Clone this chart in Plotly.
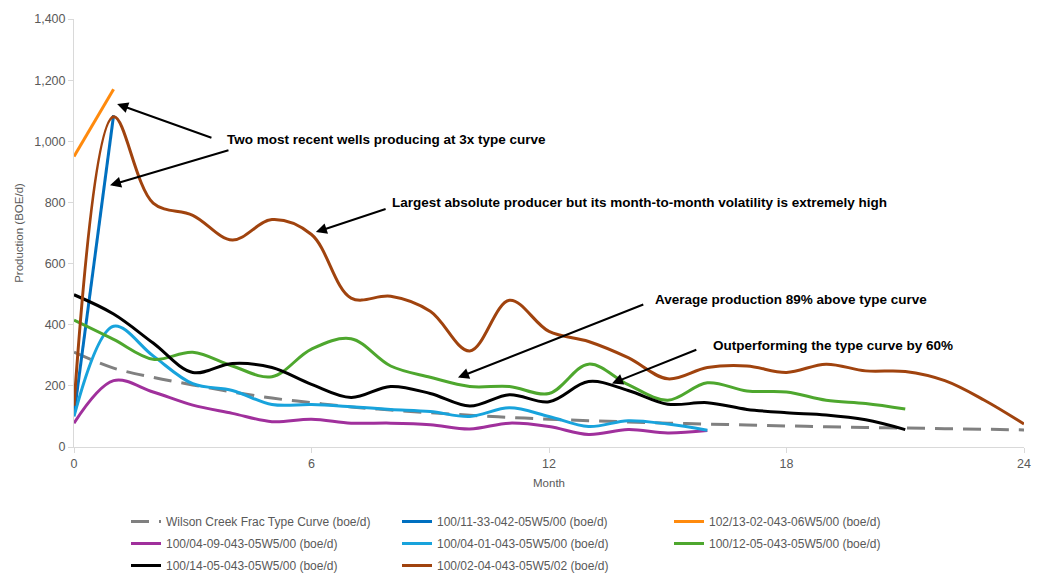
import plotly.graph_objects as go

# Monthly production by well (boe/d), month 0 = first production month
type_curve = [310, 258, 228, 203, 180, 160, 145, 131, 121, 112, 104, 97, 91,
              86, 82, 78, 75, 72, 69, 66, 64, 62, 60, 58, 56]
w_11_33 = [105, 1085]
w_13_02 = [950, 1170]
w_04_09 = [78, 217, 180, 137, 110, 83, 91, 78, 78, 73, 59, 78, 67, 41, 57, 46, 54]
w_04_01 = [100, 395, 298, 207, 185, 139, 139, 132, 123, 116, 100, 128, 100, 67, 86, 75, 55]
w_12_05 = [415, 352, 287, 310, 265, 230, 320, 354, 265, 228, 198, 198, 175,
           271, 204, 153, 210, 183, 180, 153, 142, 124]
w_14_05 = [498, 435, 340, 244, 273, 260, 205, 162, 198, 175, 134, 171, 148,
           214, 185, 140, 145, 123, 112, 105, 89, 57]
w_02_04 = [135, 1080, 798, 758, 677, 744, 695, 487, 493, 444, 314, 480, 378,
           345, 292, 223, 260, 265, 244, 271, 249, 247, 217, 153, 75]

# name, values, colour, dashed?, legend column
series = [
    ("Wilson Creek Frac Type Curve (boe/d)", type_curve, "#808080", True, "legend"),
    ("100/11-33-042-05W5/00 (boe/d)", w_11_33, "#0070C0", False, "legend2"),
    ("102/13-02-043-06W5/00 (boe/d)", w_13_02, "#FF8A0D", False, "legend3"),
    ("100/04-09-043-05W5/00 (boe/d)", w_04_09, "#A0309C", False, "legend"),
    ("100/04-01-043-05W5/00 (boe/d)", w_04_01, "#18A3DC", False, "legend2"),
    ("100/12-05-043-05W5/00 (boe/d)", w_12_05, "#4EA72E", False, "legend3"),
    ("100/14-05-043-05W5/00 (boe/d)", w_14_05, "#000000", False, "legend"),
    ("100/02-04-043-05W5/02 (boe/d)", w_02_04, "#A0430E", False, "legend2"),
]

FONT = "Liberation Sans, Arial, sans-serif"

fig = go.Figure()
for i, (name, vals, color, dashed, leg) in enumerate(series):
    fig.add_trace(go.Scatter(
        x=list(range(len(vals))), y=vals, name=name, mode="lines",
        legend=leg, legendgroup=f"g{i}",
        line=dict(color=color, width=3, dash="18px,10px" if dashed else "solid",
                  shape="spline", smoothing=1.0),
    ))

# Callouts: (text, text_x, text_y, [(tail_x, tail_y, tip_x, tip_y), ...]) in data units
callouts = [
    ("Two most recent wells producing at 3x type curve", 3.81, 1005,
     [(3.51, 1010, 1.09, 1122), (3.94, 972, 0.91, 856)]),
    ("Largest absolute producer but its month-to-month volatility is extremely high", 7.98, 801,
     [(7.91, 780, 6.11, 703)]),
    ("Average production 89% above type curve", 14.62, 481,
     [(14.42, 468, 9.7, 227)]),
    ("Outperforming the type curve by 60%", 16.1, 333,
     [(15.76, 320, 13.59, 208)]),
]

annotations = []
for text, tx, ty, arrows in callouts:
    annotations.append(dict(
        x=tx, y=ty, xref="x", yref="y", text=text, showarrow=False,
        xanchor="left", yanchor="middle",
        font=dict(family=FONT, size=13.5, color="#000000", weight="bold"),
    ))
    for ax_, ay_, x_, y_ in arrows:
        annotations.append(dict(
            x=x_, y=y_, ax=ax_, ay=ay_, xref="x", yref="y", axref="x", ayref="y",
            text="", showarrow=True, arrowhead=2, arrowsize=1.1, arrowwidth=2,
            arrowcolor="#000000", standoff=0,
        ))

axis_font = dict(family=FONT, size=12.5, color="#595959")
legend_font = dict(family=FONT, size=12, color="#595959")

W, H = 1044, 577
PLOT_L, PLOT_R, PLOT_T, PLOT_B = 74, 1024, 13, 447
plot_w = PLOT_R - PLOT_L


def column_legend(x_px, top_px=507):
    return dict(
        orientation="v",
        xref="paper", x=(x_px - PLOT_L) / plot_w, xanchor="left",
        yref="container", y=1 - top_px / H, yanchor="top",
        font=legend_font, tracegroupgap=3, bgcolor="rgba(0,0,0,0)",
    )


fig.update_layout(
    width=W, height=H,
    margin=dict(l=PLOT_L, r=W - PLOT_R, t=PLOT_T, b=H - PLOT_B),
    paper_bgcolor="white", plot_bgcolor="white",
    font=dict(family=FONT, color="#595959"),
    annotations=annotations,
    showlegend=True,
    legend=column_legend(126),
    legend2=column_legend(397),
    legend3=column_legend(669),
    xaxis=dict(
        range=[0, 24], tickvals=[0, 6, 12, 18, 24], showgrid=False, zeroline=False,
        showline=True, linecolor="#D9D9D9", linewidth=1,
        ticks="outside", ticklen=5, tickcolor="#D9D9D9",
        tickfont=axis_font,
        title=dict(text="Month", font=dict(size=11.5, color="#595959"), standoff=8),
    ),
    yaxis=dict(
        range=[0, 1400], dtick=200, tickformat=",", showgrid=False, zeroline=False,
        showline=True, linecolor="#D9D9D9", linewidth=1,
        ticks="outside", ticklen=5, tickcolor="#D9D9D9",
        tickfont=axis_font,
        title=dict(text="Production (BOE/d)", font=dict(size=11.5, color="#595959"), standoff=8),
    ),
)

fig.write_html("out.html")
